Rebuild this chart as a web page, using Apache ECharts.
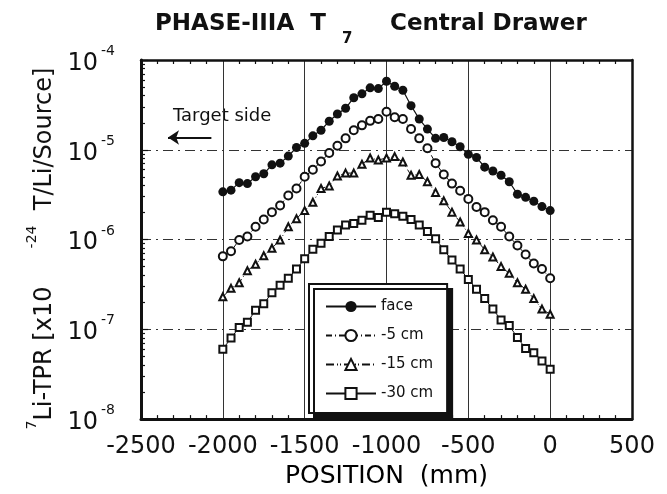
<!DOCTYPE html>
<html>
<head>
<meta charset="utf-8">
<title>PHASE-IIIA T7 Central Drawer</title>
<script src="https://cdn.jsdelivr.net/npm/echarts@6/dist/echarts.min.js"></script>
<style>
html, body { margin: 0; padding: 0; background: #fff; }
#chart { width: 667px; height: 494px; }
</style>
</head>
<body>
<div id="chart"></div>
<script>
// positions along the drawer (mm)
const positions = [
  -2000, -1950, -1900, -1850, -1800, -1750, -1700, -1650, -1600, -1550,
  -1500, -1450, -1400, -1350, -1300, -1250, -1200, -1150, -1100, -1050,
  -1000, -950, -900, -850, -800, -750, -700, -650, -600, -550,
  -500, -450, -400, -350, -300, -250, -200, -150, -100, -50, 0
]

// 7Li-TPR values
const face = [
  3.4e-6, 3.55e-6, 4.3e-6, 4.2e-6, 5.0e-6, 5.4e-6, 6.8e-6, 7.1e-6, 8.5e-6, 1.06e-5,
  1.18e-5, 1.43e-5, 1.65e-5, 2.08e-5, 2.5e-5, 2.9e-5, 3.8e-5, 4.2e-5, 4.9e-5, 4.8e-5,
  5.8e-5, 5.1e-5, 4.6e-5, 3.1e-5, 2.2e-5, 1.7e-5, 1.34e-5, 1.37e-5, 1.23e-5, 1.08e-5,
  8.9e-6, 8.2e-6, 6.4e-6, 5.8e-6, 5.2e-6, 4.4e-6, 3.2e-6, 2.95e-6, 2.67e-6, 2.33e-6, 2.1e-6
]
const minus5 = [
  6.5e-7, 7.4e-7, 9.9e-7, 1.08e-6, 1.39e-6, 1.67e-6, 2.02e-6, 2.4e-6, 3.1e-6, 3.7e-6,
  5.0e-6, 6.0e-6, 7.4e-6, 9.2e-6, 1.11e-5, 1.34e-5, 1.65e-5, 1.87e-5, 2.1e-5, 2.2e-5,
  2.65e-5, 2.3e-5, 2.2e-5, 1.7e-5, 1.34e-5, 1.04e-5, 7.1e-6, 5.3e-6, 4.2e-6, 3.5e-6,
  2.83e-6, 2.3e-6, 2.02e-6, 1.64e-6, 1.39e-6, 1.08e-6, 8.6e-7, 6.8e-7, 5.4e-7, 4.7e-7, 3.7e-7
]
const minus15 = [
  2.3e-7, 2.86e-7, 3.3e-7, 4.5e-7, 5.3e-7, 6.6e-7, 8.0e-7, 9.9e-7, 1.39e-6, 1.71e-6,
  2.1e-6, 2.6e-6, 3.7e-6, 3.96e-6, 5.1e-6, 5.5e-6, 5.5e-6, 6.9e-6, 8.1e-6, 7.7e-6,
  8.1e-6, 8.4e-6, 7.3e-6, 5.2e-6, 5.3e-6, 4.4e-6, 3.35e-6, 2.7e-6, 2.02e-6, 1.57e-6,
  1.17e-6, 9.9e-7, 7.7e-7, 6.4e-7, 5.0e-7, 4.2e-7, 3.3e-7, 2.8e-7, 2.2e-7, 1.68e-7, 1.47e-7
]
const minus30 = [
  6.0e-8, 8.0e-8, 1.05e-7, 1.2e-7, 1.63e-7, 1.93e-7, 2.55e-7, 3.1e-7, 3.7e-7, 4.7e-7,
  6.1e-7, 7.8e-7, 9.1e-7, 1.08e-6, 1.28e-6, 1.45e-6, 1.51e-6, 1.64e-6, 1.86e-6, 1.76e-6,
  2.02e-6, 1.94e-6, 1.82e-6, 1.67e-6, 1.45e-6, 1.23e-6, 1.02e-6, 7.7e-7, 5.9e-7, 4.7e-7,
  3.6e-7, 2.8e-7, 2.2e-7, 1.68e-7, 1.27e-7, 1.1e-7, 8.1e-8, 6.1e-8, 5.5e-8, 4.45e-8, 3.6e-8
]

const seriesNames = ['face', '-5 cm', '-15 cm', '-30 cm']

// log minor ticks 2..9 of every decade, as exponents (for a plain value axis -8..-4)
const yDecadeExps = [-8, -7, -6, -5]
const yMinorTickExps = []
yDecadeExps.forEach(function (e) {
  for (let k = 2; k <= 9; k++) yMinorTickExps.push(e + Math.log10(k))
})

const FONT = '"DejaVu Sans", sans-serif'
const INK = '#111'

function pairs(vals) {
  return positions.map(function (p, i) { return [p, vals[i]] })
}

const chart = echarts.init(document.getElementById('chart'))

const option = {
  backgroundColor: '#fff',
  animation: false,
  title: [
    {
      text: 'PHASE-IIIA  T',
      left: 155, top: 13, padding: 0,
      textStyle: { fontFamily: FONT, fontSize: 23, fontWeight: 'bold', color: INK }
    },
    {
      text: '7',
      left: 342, top: 32, padding: 0,
      textStyle: { fontFamily: FONT, fontSize: 15, fontWeight: 'bold', color: INK }
    },
    {
      text: 'Central Drawer',
      left: 390, top: 13, padding: 0,
      textStyle: { fontFamily: FONT, fontSize: 23, fontWeight: 'bold', color: INK }
    }
  ],
  grid: { left: 141, right: 35, top: 60, bottom: 68 },
  legend: {
    data: seriesNames,
    orient: 'vertical',
    left: 309,
    top: 284,
    padding: [15, 14, 12, 16],
    itemWidth: 50,
    itemHeight: 14,
    itemGap: 14,
    backgroundColor: '#fff',
    borderColor: INK,
    borderWidth: 2,
    shadowColor: INK,
    shadowBlur: 0,
    shadowOffsetX: 5,
    shadowOffsetY: 5,
    textStyle: { fontFamily: FONT, fontSize: 15, color: INK }
  },
  graphic: [
    {
      type: 'text',
      left: 173,
      top: 107,
      style: { text: 'Target side', font: '18px ' + FONT, fill: INK }
    }
  ],
  xAxis: [
    {
      type: 'value',
      min: -2500,
      max: 500,
      interval: 500,
      name: 'POSITION  (mm)',
      nameLocation: 'middle',
      nameGap: 41,
      nameTextStyle: { fontFamily: FONT, fontSize: 25, color: '#000' },
      axisLine: { show: true, onZero: false, lineStyle: { color: INK, width: 3 } },
      axisTick: { show: false, inside: true, length: 5 },
      minorTick: { show: true, splitNumber: 5, length: 4, lineStyle: { color: INK, width: 1.2 } },
      axisLabel: {
        margin: 16,
        fontFamily: FONT,
        fontSize: 24,
        color: INK,
        formatter: function (v) { return String(v) }
      },
      splitLine: { show: true, lineStyle: { color: '#333', width: 1 } }
    },
    {
      type: 'value',
      position: 'top',
      min: -2500,
      max: 500,
      interval: 500,
      axisLine: { show: true, onZero: false, lineStyle: { color: INK, width: 2.5 } },
      axisTick: { show: false, inside: true },
      minorTick: { show: true, splitNumber: 5, length: 4, lineStyle: { color: INK, width: 1.2 } },
      axisLabel: { show: false },
      splitLine: { show: false }
    }
  ],
  yAxis: [
    {
      type: 'log',
      logBase: 10,
      min: 1e-8,
      max: 1e-4,
      splitNumber: 4,
      name: '{sup|7}{base|Li-TPR [x10     }{sup|-24}{base|  T/Li/Source]}',
      nameLocation: 'middle',
      nameRotate: 90,
      nameGap: 80,
      nameTextStyle: {
        fontFamily: FONT,
        color: INK,
        padding: [0, 18, 0, 0],
        rich: {
          base: { fontFamily: FONT, fontSize: 24, color: INK, lineHeight: 24, verticalAlign: 'bottom' },
          sup: { fontFamily: FONT, fontSize: 14, color: INK, verticalAlign: 'top', padding: [0, 0, 17, 0] }
        }
      },
      axisLine: { show: true, onZero: false, lineStyle: { color: INK, width: 3 } },
      axisTick: { show: true, inside: true, length: 7, lineStyle: { color: INK, width: 1.2 } },
      axisLabel: {
        margin: 26,
        formatter: function (v) {
          return '{base|10}{sup|' + Math.round(Math.log10(v)) + '}'
        },
        rich: {
          base: { fontFamily: FONT, fontSize: 24, color: INK, lineHeight: 24, verticalAlign: 'bottom' },
          sup: { fontFamily: FONT, fontSize: 14, color: INK, verticalAlign: 'top', padding: [0, 0, 17, 3] }
        }
      },
      splitLine: { show: true, lineStyle: { color: '#333', width: 1, type: [10, 5, 2, 5] } }
    },
    {
      // minor log ticks on the left edge, drawn on an exponent axis
      type: 'value',
      min: -8,
      max: -4,
      position: 'left',
      axisLine: { show: false, onZero: false },
      axisTick: { show: true, inside: true, length: 4, customValues: yMinorTickExps, lineStyle: { color: INK, width: 1.2 } },
      axisLabel: { show: false },
      splitLine: { show: false }
    },
    {
      // right frame edge
      type: 'log',
      logBase: 10,
      min: 1e-8,
      max: 1e-4,
      position: 'right',
      axisLine: { show: true, onZero: false, lineStyle: { color: INK, width: 2.5 } },
      axisTick: { show: false },
      axisLabel: { show: false },
      splitLine: { show: false }
    }
  ],
  series: [
    {
      name: 'face',
      type: 'line',
      data: pairs(face),
      symbol: 'circle',
      symbolSize: 9,
      itemStyle: { color: INK },
      lineStyle: { color: INK, width: 1.2 },
      markLine: {
        silent: true,
        symbol: ['none', 'arrow'],
        symbolSize: 11,
        label: { show: false },
        lineStyle: { color: INK, width: 2, type: 'solid' },
        data: [[{ coord: [-2070, 1.37e-5] }, { coord: [-2335, 1.37e-5] }]]
      }
    },
    {
      name: '-5 cm',
      type: 'line',
      data: pairs(minus5),
      symbol: 'emptyCircle',
      symbolSize: 8,
      itemStyle: { color: INK, borderWidth: 1.2 },
      lineStyle: { color: INK, width: 1, type: [6, 3, 1, 3] }
    },
    {
      name: '-15 cm',
      type: 'line',
      data: pairs(minus15),
      symbol: 'emptyTriangle',
      symbolSize: 7,
      itemStyle: { color: INK, borderWidth: 1.2 },
      lineStyle: { color: INK, width: 1, type: [8, 3, 1, 2, 1, 3] }
    },
    {
      name: '-30 cm',
      type: 'line',
      data: pairs(minus30),
      symbol: 'emptyRect',
      symbolSize: 7,
      itemStyle: { color: INK, borderWidth: 1.2 },
      lineStyle: { color: INK, width: 1 }
    }
  ]
}

chart.setOption(option)
</script>
</body>
</html>
